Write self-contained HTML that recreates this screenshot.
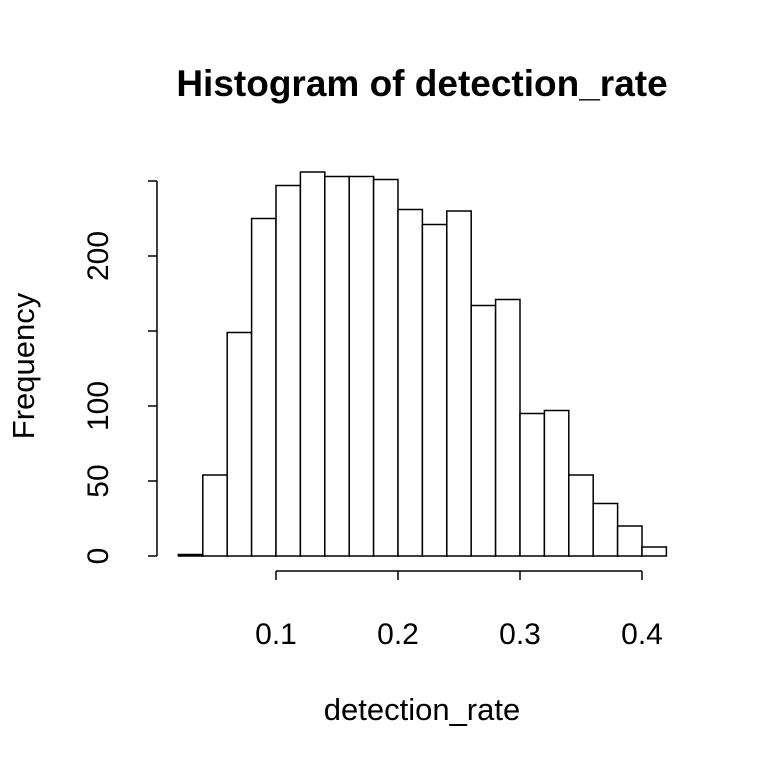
<!DOCTYPE html>
<html><head><meta charset="utf-8"><style>
body{margin:0;background:#fff}
svg text{font-family:"Liberation Sans",Arial,sans-serif;fill:#000}
</style></head><body>
<svg id="chart" width="768" height="768">
<text x="422" y="96" text-anchor="middle" font-size="37" font-weight="bold">Histogram of detection_rate</text>
<text x="422" y="720" text-anchor="middle" font-size="31">detection_rate</text>
<text transform="translate(34,366) rotate(-90)" text-anchor="middle" font-size="31">Frequency</text>
<g id="bars"></g><g id="xaxis"></g><g id="yaxis"></g>
</svg>
<script>
const binStart=0.02, binWidth=0.02;
const counts=[1,54,149,225,247,256,253,253,251,231,221,230,167,171,95,97,54,35,20,6];
const xTicks=[0.1,0.2,0.3,0.4];
const xTickLabels=["0.1","0.2","0.3","0.4"];
const yTicks=[0,50,100,150,200,250];
const yTickLabels=["0","50","100","","200",""];
const NS="http://www.w3.org/2000/svg";
const xs=v=>276+(v-0.1)*1220;
const ys=v=>556-v*1.5;
function mk(t,a,p){const e=document.createElementNS(NS,t);for(const k in a)e.setAttribute(k,a[k]);p.appendChild(e);return e;}
const bars=document.getElementById('bars');
counts.forEach((c,i)=>{
  const x0=xs(binStart+i*binWidth),x1=xs(binStart+(i+1)*binWidth);
  const r=mk('rect',{x:x0,y:ys(c),width:x1-x0,height:ys(0)-ys(c),fill:'#fff',stroke:'#000','stroke-width':1.5},bars);
  
  
});
const xa=document.getElementById('xaxis');


mk('line',{x1:xs(xTicks[0]),x2:xs(xTicks[xTicks.length-1]),y1:571,y2:571,stroke:'#000','stroke-width':1.5},xa);
xTicks.forEach((t,i)=>{
  mk('line',{x1:xs(t),x2:xs(t),y1:571,y2:580,stroke:'#000','stroke-width':1.5},xa);
  const tx=mk('text',{x:xs(t),y:644,'text-anchor':'middle','font-size':30},xa);
  tx.textContent=xTickLabels[i];
  
  
});
const ya=document.getElementById('yaxis');


mk('line',{x1:157,x2:157,y1:ys(yTicks[0]),y2:ys(yTicks[yTicks.length-1]),stroke:'#000','stroke-width':1.5},ya);
yTicks.forEach((t,i)=>{
  mk('line',{x1:148,x2:157,y1:ys(t),y2:ys(t),stroke:'#000','stroke-width':1.5},ya);
  if(yTickLabels[i]){
    const tx=mk('text',{transform:`translate(108,${ys(t)}) rotate(-90)`,'text-anchor':'middle','font-size':30},ya);
    tx.textContent=yTickLabels[i];
    
    
  }
});
</script>
</body></html>
